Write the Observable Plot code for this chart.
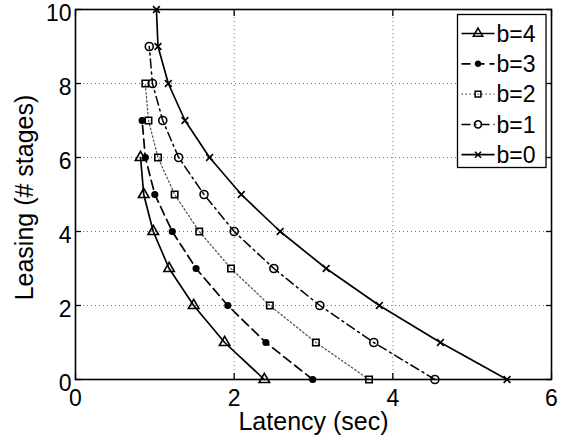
<!DOCTYPE html>
<html>
<head>
<meta charset="utf-8">
<script src="https://cdn.jsdelivr.net/npm/d3@7"></script>
<script src="https://cdn.jsdelivr.net/npm/@observablehq/plot@0.6"></script>
<style>
  html, body { margin: 0; padding: 0; background: #fff; }
  #chart { width: 569px; height: 439px; }
</style>
</head>
<body>
<div id="chart"></div>
<script>
// ---- data ----
const seriesNames = ["b=4", "b=3", "b=2", "b=1", "b=0"];
const leasingB4 = [0, 1, 2, 3, 4, 5, 6];
const latencyB4 = [2.38, 1.88, 1.49, 1.18, 0.98, 0.86, 0.82];
const leasingB3 = [0, 1, 2, 3, 4, 5, 6, 7];
const latencyB3 = [2.99, 2.40, 1.92, 1.52, 1.22, 1.00, 0.88, 0.84];
const leasingB2 = [0, 1, 2, 3, 4, 5, 6, 7, 8];
const latencyB2 = [3.70, 3.03, 2.45, 1.96, 1.56, 1.25, 1.04, 0.92, 0.88];
const leasingB1 = [0, 1, 2, 3, 4, 5, 6, 7, 8, 9];
const latencyB1 = [4.53, 3.76, 3.08, 2.50, 2.00, 1.62, 1.30, 1.10, 0.97, 0.93];
const leasingB0 = [0, 1, 2, 3, 4, 5, 6, 7, 8, 9, 10];
const latencyB0 = [5.44, 4.60, 3.83, 3.16, 2.58, 2.09, 1.69, 1.38, 1.17, 1.04, 1.02];
const xTicks = [0, 2, 4, 6];
const yTicks = [0, 2, 4, 6, 8, 10];
const xGrid = [2, 4];
const yGrid = [2, 4, 6, 8];
const xLabel = "Latency (sec)";
const yLabel = "Leasing (# stages)";

const seriesData = [
  [leasingB4, latencyB4],
  [leasingB3, latencyB3],
  [leasingB2, latencyB2],
  [leasingB1, latencyB1],
  [leasingB0, latencyB0]
].map(([ys, xs], i) => ys.map((y, j) => ({series: seriesNames[i], leasing: y, latency: xs[j]})));

// ---- styles ----
const styles = {
  "b=4": {dash: null, stroke: "#000", width: 1.7, symbol: "triangle", r: 3.9, fill: "none"},
  "b=3": {dash: "9,5", stroke: "#000", width: 1.7, symbol: "circle", r: 2.8, fill: "#000"},
  "b=2": {dash: "1.5,2.5", stroke: "#555", width: 1.3, symbol: "square", r: 3.6, fill: "none"},
  "b=1": {dash: "9,4,2,4", stroke: "#000", width: 1.5, symbol: "circle", r: 4.0, fill: "none"},
  "b=0": {dash: null, stroke: "#000", width: 1.7, symbol: "times", r: 3.2, fill: "none"}
};

const font = "'Liberation Sans', Arial, Helvetica, sans-serif";

const marks = [];
// grid
marks.push(Plot.ruleX(xGrid, {stroke: "#777", strokeWidth: 1, strokeDasharray: "1,3"}));
marks.push(Plot.ruleY(yGrid, {stroke: "#777", strokeWidth: 1, strokeDasharray: "1,3"}));

// series
seriesData.forEach((data, i) => {
  const s = styles[seriesNames[i]];
  marks.push(Plot.line(data, {x: "latency", y: "leasing", stroke: s.stroke, strokeWidth: s.width,
    strokeDasharray: s.dash, curve: "linear"}));
  marks.push(Plot.dot(data, {x: "latency", y: "leasing", symbol: () => s.symbol, r: s.r,
    fill: s.fill, stroke: "#000", strokeWidth: 1.6}));
});

// frame + axes (ticks point inward)
marks.push(Plot.frame({stroke: "#000", strokeWidth: 1.6}));
marks.push(Plot.axisX(xTicks, {anchor: "bottom", tickSize: -6, tickPadding: 16, fontSize: 23, label: null, strokeWidth: 1.3}));
marks.push(Plot.axisX(xTicks, {anchor: "top", tickSize: -6, tickFormat: () => "", label: null, strokeWidth: 1.3}));
marks.push(Plot.axisY(yTicks, {anchor: "left", tickSize: 0, tickPadding: 4, dy: 4.5, fontSize: 23, label: null}));
marks.push(Plot.axisY(yTicks, {anchor: "left", tickSize: -6, tickFormat: () => "", label: null, strokeWidth: 1.3}));
marks.push(Plot.axisY(yTicks, {anchor: "right", tickSize: -6, tickFormat: () => "", label: null, strokeWidth: 1.3}));

// axis titles
marks.push(Plot.text([xLabel], {text: d => d, frameAnchor: "bottom", lineAnchor: "middle", textAnchor: "middle", dy: 42, fontSize: 25, fill: "#000"}));
marks.push(Plot.text([yLabel], {text: d => d, frameAnchor: "left", lineAnchor: "middle", textAnchor: "middle", dx: -51, dy: 3, rotate: -90, fontSize: 25, fill: "#000"}));

// legend (custom render mark)
marks.push((index, scales, values, dims) => {
  const g = d3.create("svg:g").attr("font-family", font);
  const bx = dims.width - dims.marginRight - 93.5;
  const by = dims.marginTop + 5.5;
  const bw = 88.5, bh = 153, rowH = 30.3;
  g.append("rect").attr("x", bx).attr("y", by).attr("width", bw).attr("height", bh)
    .attr("fill", "#fff").attr("stroke", "#000").attr("stroke-width", 1.3);
  const symMap = {triangle: d3.symbolTriangle, circle: d3.symbolCircle, square: d3.symbolSquare, times: d3.symbolTimes};
  seriesNames.forEach((name, i) => {
    const s = styles[name];
    const cy = by + 19 + i * rowH;
    const x0 = bx + 4, x1 = bx + 37, cx = (x0 + x1) / 2;
    g.append("line").attr("x1", x0).attr("x2", x1).attr("y1", cy).attr("y2", cy)
      .attr("stroke", s.stroke).attr("stroke-width", s.width)
      .attr("stroke-dasharray", s.dash);
    g.append("path").attr("transform", `translate(${cx},${cy})`)
      .attr("d", d3.symbol(symMap[s.symbol], Math.PI * s.r * s.r * 0.8)())
      .attr("fill", s.fill).attr("stroke", "#000").attr("stroke-width", 1.5);
    g.append("text").attr("x", x1 + 2).attr("y", cy).attr("dy", "0.36em")
      .attr("text-anchor", "start")
      .attr("font-size", 23).attr("fill", "#000").text(name);
  });
  return g.node();
});

const chart = Plot.plot({
  width: 569,
  height: 439,
  marginLeft: 75,
  marginRight: 18,
  marginTop: 9,
  marginBottom: 60,
  style: {fontFamily: font, color: "#000", background: "#fff"},
  x: {domain: [0, 6], axis: null},
  y: {domain: [0, 10], axis: null},
  marks
});
document.getElementById("chart").appendChild(chart);
</script>
</body>
</html>
